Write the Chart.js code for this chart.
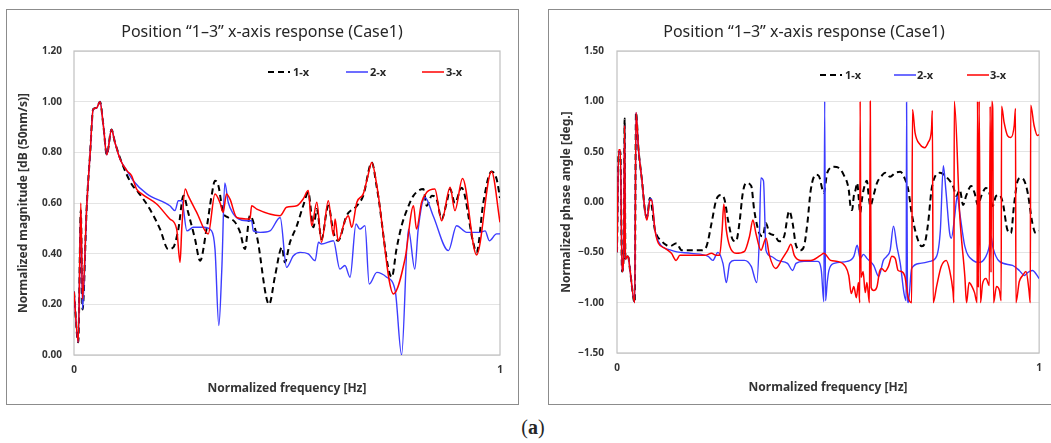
<!DOCTYPE html>
<html>
<head>
<meta charset="utf-8">
<script src="https://cdn.jsdelivr.net/npm/chart.js@4.4.1/dist/chart.umd.min.js"></script>
<style>
  body { margin: 0; width: 1051px; height: 443px; overflow: hidden; background: #fff; position: relative;
         font-family: "Noto Sans", sans-serif; color: #262626; }
  .panel { position: absolute; top: 9px; width: 513px; height: 396px; border: 1px solid #8c8c8c; box-sizing: border-box; }
  .box { position: absolute; top: 0; height: 410px; }
  .title { position: absolute; top: 20px; font-size: 16px; line-height: 22px; white-space: nowrap; transform: translateX(-50%); }
  .leg { position: absolute; font-size: 11px; font-weight: bold; line-height: 14px; white-space: nowrap; }
  .leg svg { display: block; }
  .cap { position: absolute; left: 533px; top: 415px; transform: translateX(-50%); font-family: "Liberation Serif", serif; font-size: 20px; line-height: 24px; }
</style>
</head>
<body>
<div class="panel" style="left:6px"></div>
<div class="panel" style="left:548px"></div>
<div class="box" style="left:0;width:520px"><canvas id="magChart"></canvas></div>
<div class="box" style="left:540px;width:511px"><canvas id="phaseChart"></canvas></div>
<div class="title" style="left:262px">Position “1–3” x-axis response (Case1)</div>
<div class="title" style="left:804px">Position “1–3” x-axis response (Case1)</div>
<div class="cap">(<b>a</b>)</div>
<script>
const seriesNames = ["1-x", "2-x", "3-x"];
const xTickText = ["0", "1"];
const magTicks = ["0.00", "0.20", "0.40", "0.60", "0.80", "1.00", "1.20"];
const phaseTicks = ["\u22121.50", "\u22121.00", "\u22120.50", "0.00", "0.50", "1.00", "1.50"];

// magnitude, [normalized frequency, value]
const mag1x = [[0,0.25],[0.010,0.05],[0.016,0.57],[0.020,0.18],[0.030,0.59],[0.038,0.80],[0.045,0.97],[0.053,0.975],[0.061,1.00],[0.069,0.905],[0.077,0.79],[0.088,0.89],[0.096,0.84],[0.112,0.76],[0.135,0.675],[0.151,0.642],[0.178,0.576],[0.202,0.497],[0.221,0.418],[0.233,0.425],[0.245,0.497],[0.257,0.629],[0.268,0.563],[0.284,0.458],[0.296,0.372],[0.311,0.497],[0.323,0.629],[0.331,0.688],[0.339,0.668],[0.350,0.563],[0.362,0.543],[0.378,0.524],[0.390,0.484],[0.401,0.418],[0.413,0.55],[0.429,0.471],[0.458,0.20],[0.472,0.313],[0.488,0.425],[0.495,0.366],[0.507,0.445],[0.523,0.51],[0.538,0.589],[0.550,0.642],[0.562,0.504],[0.570,0.576],[0.581,0.458],[0.597,0.589],[0.609,0.484],[0.620,0.451],[0.640,0.55],[0.664,0.589],[0.679,0.629],[0.699,0.76],[0.711,0.66],[0.746,0.307],[0.757,0.418],[0.769,0.51],[0.781,0.57],[0.797,0.629],[0.820,0.655],[0.828,0.589],[0.840,0.629],[0.851,0.616],[0.863,0.537],[0.875,0.603],[0.883,0.655],[0.894,0.60],[0.910,0.66],[0.937,0.445],[0.945,0.405],[0.961,0.603],[0.980,0.724],[0.992,0.695],[1.0,0.62]];
const mag2x = [[0,0.25],[0.010,0.05],[0.016,0.57],[0.020,0.18],[0.030,0.59],[0.038,0.80],[0.045,0.97],[0.053,0.975],[0.061,1.00],[0.069,0.905],[0.077,0.79],[0.088,0.89],[0.096,0.84],[0.108,0.774],[0.124,0.728],[0.139,0.688],[0.171,0.636],[0.225,0.589],[0.237,0.57],[0.245,0.609],[0.253,0.609],[0.265,0.49],[0.280,0.504],[0.304,0.504],[0.323,0.49],[0.331,0.418],[0.340,0.116],[0.347,0.34],[0.354,0.679],[0.362,0.603],[0.374,0.557],[0.386,0.537],[0.405,0.53],[0.417,0.53],[0.421,0.49],[0.437,0.484],[0.460,0.49],[0.484,0.543],[0.499,0.346],[0.515,0.392],[0.531,0.405],[0.550,0.399],[0.566,0.372],[0.574,0.445],[0.581,0.438],[0.609,0.451],[0.624,0.339],[0.636,0.353],[0.648,0.307],[0.662,0.517],[0.671,0.497],[0.683,0.51],[0.693,0.28],[0.711,0.326],[0.734,0.307],[0.754,0.254],[0.769,0.0],[0.785,0.497],[0.800,0.339],[0.808,0.497],[0.824,0.622],[0.843,0.55],[0.879,0.412],[0.898,0.51],[0.922,0.484],[0.953,0.484],[0.965,0.49],[0.975,0.451],[0.992,0.478],[1.0,0.478]];
const mag3x = [[0,0.25],[0.010,0.05],[0.016,0.60],[0.020,0.22],[0.030,0.59],[0.038,0.80],[0.045,0.97],[0.053,0.975],[0.061,1.00],[0.069,0.905],[0.077,0.79],[0.088,0.89],[0.096,0.84],[0.108,0.774],[0.124,0.728],[0.135,0.708],[0.147,0.655],[0.159,0.636],[0.194,0.596],[0.225,0.537],[0.241,0.497],[0.249,0.366],[0.253,0.50],[0.261,0.655],[0.268,0.629],[0.288,0.563],[0.315,0.478],[0.331,0.636],[0.343,0.60],[0.350,0.563],[0.358,0.636],[0.366,0.616],[0.382,0.543],[0.413,0.537],[0.417,0.589],[0.429,0.576],[0.484,0.55],[0.499,0.583],[0.523,0.589],[0.538,0.616],[0.550,0.649],[0.558,0.51],[0.570,0.603],[0.581,0.445],[0.597,0.609],[0.609,0.471],[0.613,0.537],[0.620,0.451],[0.636,0.53],[0.644,0.55],[0.652,0.504],[0.664,0.603],[0.679,0.636],[0.689,0.70],[0.699,0.76],[0.711,0.668],[0.750,0.241],[0.777,0.379],[0.797,0.589],[0.804,0.497],[0.816,0.603],[0.828,0.642],[0.847,0.655],[0.863,0.53],[0.883,0.662],[0.894,0.57],[0.912,0.697],[0.945,0.395],[0.980,0.724],[1.0,0.524]];

// phase angle, [normalized frequency, value]
const phase1x = [[0,-0.50],[0.004,0.50],[0.008,0.50],[0.012,-0.69],[0.016,-0.50],[0.018,0.83],[0.020,-0.57],[0.024,-0.54],[0.027,-0.55],[0.031,-0.68],[0.042,-1.0],[0.045,0.89],[0.051,0.52],[0.059,0.22],[0.067,-0.11],[0.071,-0.15],[0.078,0.04],[0.090,-0.28],[0.106,-0.39],[0.118,-0.43],[0.125,-0.44],[0.141,-0.41],[0.153,-0.48],[0.176,-0.48],[0.200,-0.48],[0.212,-0.44],[0.224,-0.21],[0.235,0.02],[0.247,0.07],[0.255,0.02],[0.263,-0.18],[0.275,-0.38],[0.282,-0.39],[0.290,-0.21],[0.298,0.09],[0.306,0.19],[0.318,0.16],[0.325,-0.08],[0.337,-0.31],[0.345,-0.34],[0.353,-0.21],[0.361,-0.31],[0.373,-0.33],[0.384,-0.39],[0.396,-0.34],[0.408,-0.09],[0.416,-0.21],[0.424,-0.43],[0.435,-0.48],[0.443,-0.44],[0.451,-0.21],[0.459,0.12],[0.471,0.27],[0.478,0.26],[0.490,0.09],[0.498,0.29],[0.514,0.35],[0.525,0.34],[0.537,0.27],[0.549,0.12],[0.553,-0.04],[0.557,-0.08],[0.561,0.06],[0.565,0.12],[0.569,0.19],[0.573,0.02],[0.576,-0.11],[0.580,0.02],[0.584,0.12],[0.592,0.21],[0.596,0.07],[0.600,-0.04],[0.608,0.07],[0.616,0.19],[0.627,0.26],[0.635,0.29],[0.647,0.25],[0.659,0.29],[0.671,0.30],[0.682,0.23],[0.690,0.12],[0.698,-0.11],[0.710,-0.34],[0.722,-0.44],[0.729,-0.41],[0.737,-0.21],[0.745,0.12],[0.753,0.25],[0.765,0.29],[0.780,0.25],[0.792,0.19],[0.796,0.16],[0.804,0.06],[0.812,0.12],[0.820,-0.03],[0.827,0.06],[0.839,0.16],[0.847,0.09],[0.855,-0.03],[0.863,0.06],[0.874,0.14],[0.882,0.09],[0.890,-0.04],[0.898,0.06],[0.906,0.07],[0.914,-0.01],[0.925,-0.28],[0.933,-0.31],[0.941,-0.01],[0.949,0.21],[0.957,0.24],[0.965,0.21],[0.973,0.09],[0.984,-0.21],[0.992,-0.31],[1.0,-0.29]];
const phase2x = [[0,-0.50],[0.004,0.50],[0.008,0.50],[0.012,-0.69],[0.016,-0.50],[0.018,0.76],[0.020,-0.57],[0.024,-0.54],[0.027,-0.55],[0.031,-0.68],[0.042,-1.0],[0.045,0.89],[0.051,0.52],[0.059,0.22],[0.067,-0.11],[0.071,-0.16],[0.078,0.03],[0.082,0.03],[0.090,-0.28],[0.098,-0.39],[0.129,-0.48],[0.176,-0.51],[0.216,-0.54],[0.227,-0.58],[0.239,-0.50],[0.251,-0.61],[0.259,-0.80],[0.267,-0.61],[0.278,-0.58],[0.302,-0.58],[0.318,-0.64],[0.331,-0.80],[0.337,-0.38],[0.341,0.24],[0.347,0.21],[0.353,-0.48],[0.365,-0.54],[0.380,-0.58],[0.404,-0.61],[0.416,-0.68],[0.424,-0.61],[0.443,-0.59],[0.475,-0.59],[0.484,-0.68],[0.490,-0.99],[0.492,1.0],[0.494,-0.98],[0.498,-0.80],[0.502,-0.68],[0.514,-0.61],[0.545,-0.59],[0.561,-0.54],[0.569,-0.43],[0.576,-0.56],[0.584,-0.52],[0.592,-0.56],[0.608,-0.63],[0.620,-0.74],[0.631,-0.58],[0.639,-0.54],[0.647,-0.48],[0.655,-0.24],[0.663,-0.44],[0.671,-0.61],[0.680,-0.91],[0.685,-0.98],[0.686,0.99],[0.688,-0.90],[0.690,-1.0],[0.698,-0.66],[0.718,-0.61],[0.741,-0.59],[0.757,-0.54],[0.766,-0.28],[0.773,0.36],[0.779,0.12],[0.788,-0.31],[0.792,-0.36],[0.800,-0.14],[0.806,0.06],[0.812,-0.11],[0.824,-0.44],[0.843,-0.58],[0.859,-0.60],[0.874,-0.54],[0.882,-0.44],[0.886,-0.34],[0.890,-0.44],[0.906,-0.59],[0.937,-0.63],[0.953,-0.68],[0.965,-0.73],[0.973,-0.70],[0.984,-0.68],[1.0,-0.76]];
const phase3x = [[0,-0.50],[0.004,0.52],[0.008,0.52],[0.012,-0.69],[0.016,-0.50],[0.018,0.76],[0.020,-0.57],[0.024,-0.54],[0.027,-0.55],[0.031,-0.68],[0.042,-1.0],[0.045,0.89],[0.051,0.52],[0.059,0.22],[0.067,-0.11],[0.071,-0.18],[0.078,0.02],[0.082,0.02],[0.090,-0.28],[0.098,-0.41],[0.114,-0.46],[0.129,-0.51],[0.140,-0.58],[0.149,-0.53],[0.176,-0.53],[0.208,-0.53],[0.224,-0.51],[0.235,-0.53],[0.243,-0.53],[0.249,-0.28],[0.253,-0.02],[0.259,-0.28],[0.267,-0.44],[0.282,-0.51],[0.302,-0.49],[0.314,-0.34],[0.322,-0.18],[0.329,-0.31],[0.341,-0.48],[0.353,-0.36],[0.361,-0.53],[0.376,-0.66],[0.392,-0.56],[0.404,-0.48],[0.412,-0.42],[0.420,-0.53],[0.435,-0.58],[0.459,-0.58],[0.482,-0.53],[0.490,-0.51],[0.506,-0.58],[0.522,-0.59],[0.541,-0.64],[0.549,-0.73],[0.555,-0.91],[0.561,-0.84],[0.567,-0.95],[0.572,-0.80],[0.575,-1.0],[0.576,1.0],[0.578,-0.75],[0.583,-0.69],[0.588,-0.90],[0.592,-0.80],[0.598,-1.0],[0.600,1.0],[0.602,-0.85],[0.608,-0.88],[0.616,-0.84],[0.622,-0.69],[0.627,-0.66],[0.635,-0.69],[0.643,-0.64],[0.651,-0.54],[0.659,-0.56],[0.666,-0.68],[0.674,-0.69],[0.682,-0.74],[0.690,-0.95],[0.698,-1.0],[0.700,0.92],[0.706,0.69],[0.718,0.57],[0.729,0.54],[0.737,0.59],[0.745,0.72],[0.747,0.91],[0.749,-1.0],[0.757,-0.84],[0.768,-0.64],[0.780,-0.58],[0.788,-0.68],[0.796,-0.89],[0.798,-1.0],[0.799,1.0],[0.812,-0.14],[0.824,-0.74],[0.828,-1.0],[0.834,-0.80],[0.841,-0.84],[0.847,-0.90],[0.853,-1.0],[0.854,1.0],[0.856,-0.85],[0.858,1.0],[0.861,-1.0],[0.866,-0.81],[0.874,-0.76],[0.882,-0.83],[0.884,0.95],[0.886,-0.70],[0.888,1.0],[0.890,0.93],[0.892,-1.0],[0.899,-0.84],[0.906,-0.88],[0.910,-0.98],[0.911,0.95],[0.917,0.79],[0.925,0.66],[0.933,0.64],[0.941,0.76],[0.944,0.93],[0.945,-1.0],[0.953,-0.79],[0.961,-0.73],[0.969,-0.69],[0.976,-0.88],[0.979,-1.0],[0.980,0.96],[0.988,0.76],[0.996,0.66],[1.0,0.67]];

const FONT = "'Noto Sans', sans-serif";
const lineColors = ["#000000", "#3c3cff", "#ff0000"];

const plotFrame = {
  id: "plotFrame",
  beforeDatasetsDraw(chart) {
    const { ctx, chartArea: a } = chart;
    ctx.save();
    ctx.strokeStyle = "#c0c0c0";
    ctx.lineWidth = 1.2;
    ctx.strokeRect(a.left, a.top, a.width, a.height);
    ctx.restore();
  },
};

function toXY(points) {
  return points.map(([x, y]) => ({ x, y }));
}

function makeDatasets(s1, s2, s3) {
  return [
    { label: seriesNames[0], data: toXY(s1), borderColor: lineColors[0], borderWidth: 2, borderDash: [6, 4], order: 3 },
    { label: seriesNames[1], data: toXY(s2), borderColor: lineColors[1], borderWidth: 1.4, order: 2 },
    { label: seriesNames[2], data: toXY(s3), borderColor: lineColors[2], borderWidth: 1.5, order: 1 },
  ];
}

function makeOptions(o) {
  const tickFont = { family: FONT, size: 10, weight: "bold" };
  const titleFont = { family: FONT, size: 12, weight: "bold" };
  return {
    responsive: true,
    maintainAspectRatio: false,
    animation: false,
    layout: { padding: { left: 0, top: o.top, right: o.right, bottom: o.bottom } },
    elements: { point: { radius: 0 }, line: { cubicInterpolationMode: "monotone", fill: false } },
    plugins: { legend: { display: false }, tooltip: { enabled: false } },
    scales: {
      x: {
        type: "linear",
        min: 0,
        max: 1,
        afterFit: (s) => { s.height = 50; },
        grid: { display: false, drawTicks: false },
        border: { display: false },
        ticks: { stepSize: 1, padding: 9, color: "#333", font: tickFont, callback: (v) => xTickText[v] },
        title: { display: true, text: "Normalized frequency [Hz]", color: "#333", font: titleFont, padding: { top: 0, bottom: o.xTitlePad } },
      },
      y: {
        min: o.min,
        max: o.max,
        afterFit: (s) => { s.width = o.yWidth; },
        grid: { color: "#e4e4e4", drawTicks: false },
        border: { display: false },
        ticks: { stepSize: o.step, padding: o.yTickPad, color: "#333", font: tickFont, callback: (v, i) => o.labels[i] },
        title: { display: true, text: o.yTitle, color: "#333", font: titleFont, padding: { top: o.yTitlePad, bottom: 0 } },
      },
    },
  };
}

function addLegend(xs, textXs, y) {
  seriesNames.forEach((name, i) => {
    const sw = document.createElement("div");
    sw.className = "leg";
    sw.style.left = xs[i] + "px";
    sw.style.top = (y - 2) + "px";
    const dash = i === 0 ? ' stroke-dasharray="6,4"' : "";
    sw.innerHTML = '<svg width="22" height="4"><line x1="0" y1="2" x2="22" y2="2" stroke="' + lineColors[i] + '" stroke-width="' + (i === 0 ? 2 : 1.5) + '"' + dash + '/></svg>';
    document.body.appendChild(sw);
    const t = document.createElement("div");
    t.className = "leg";
    t.style.left = textXs[i] + "px";
    t.style.top = (y - 7) + "px";
    t.textContent = name;
    document.body.appendChild(t);
  });
}

document.addEventListener("DOMContentLoaded", () => {
  new Chart(document.getElementById("magChart"), {
    type: "line",
    data: { datasets: makeDatasets(mag1x, mag2x, mag3x) },
    options: makeOptions({
      top: 51, right: 20, bottom: 5, min: 0, max: 1.2, step: 0.2, labels: magTicks,
      yWidth: 74, yTickPad: 12, yTitlePad: 16, xTitlePad: 9,
      yTitle: "Normalized magnitude [dB (50nm/s)]",
    }),
    plugins: [plotFrame],
  });

  new Chart(document.getElementById("phaseChart"), {
    type: "line",
    data: { datasets: makeDatasets(phase1x, phase2x, phase3x) },
    options: makeOptions({
      top: 51, right: 9, bottom: 7, min: -1.5, max: 1.5, step: 0.5, labels: phaseTicks,
      yWidth: 77, yTickPad: 13, yTitlePad: 19, xTitlePad: 8,
      yTitle: "Normalized phase angle [deg.]",
    }),
    plugins: [plotFrame],
  });

  addLegend([268, 346, 422], [293, 370, 446], 72);
  addLegend([820, 894, 967], [845, 917, 990], 75);
});
</script>
</body>
</html>
